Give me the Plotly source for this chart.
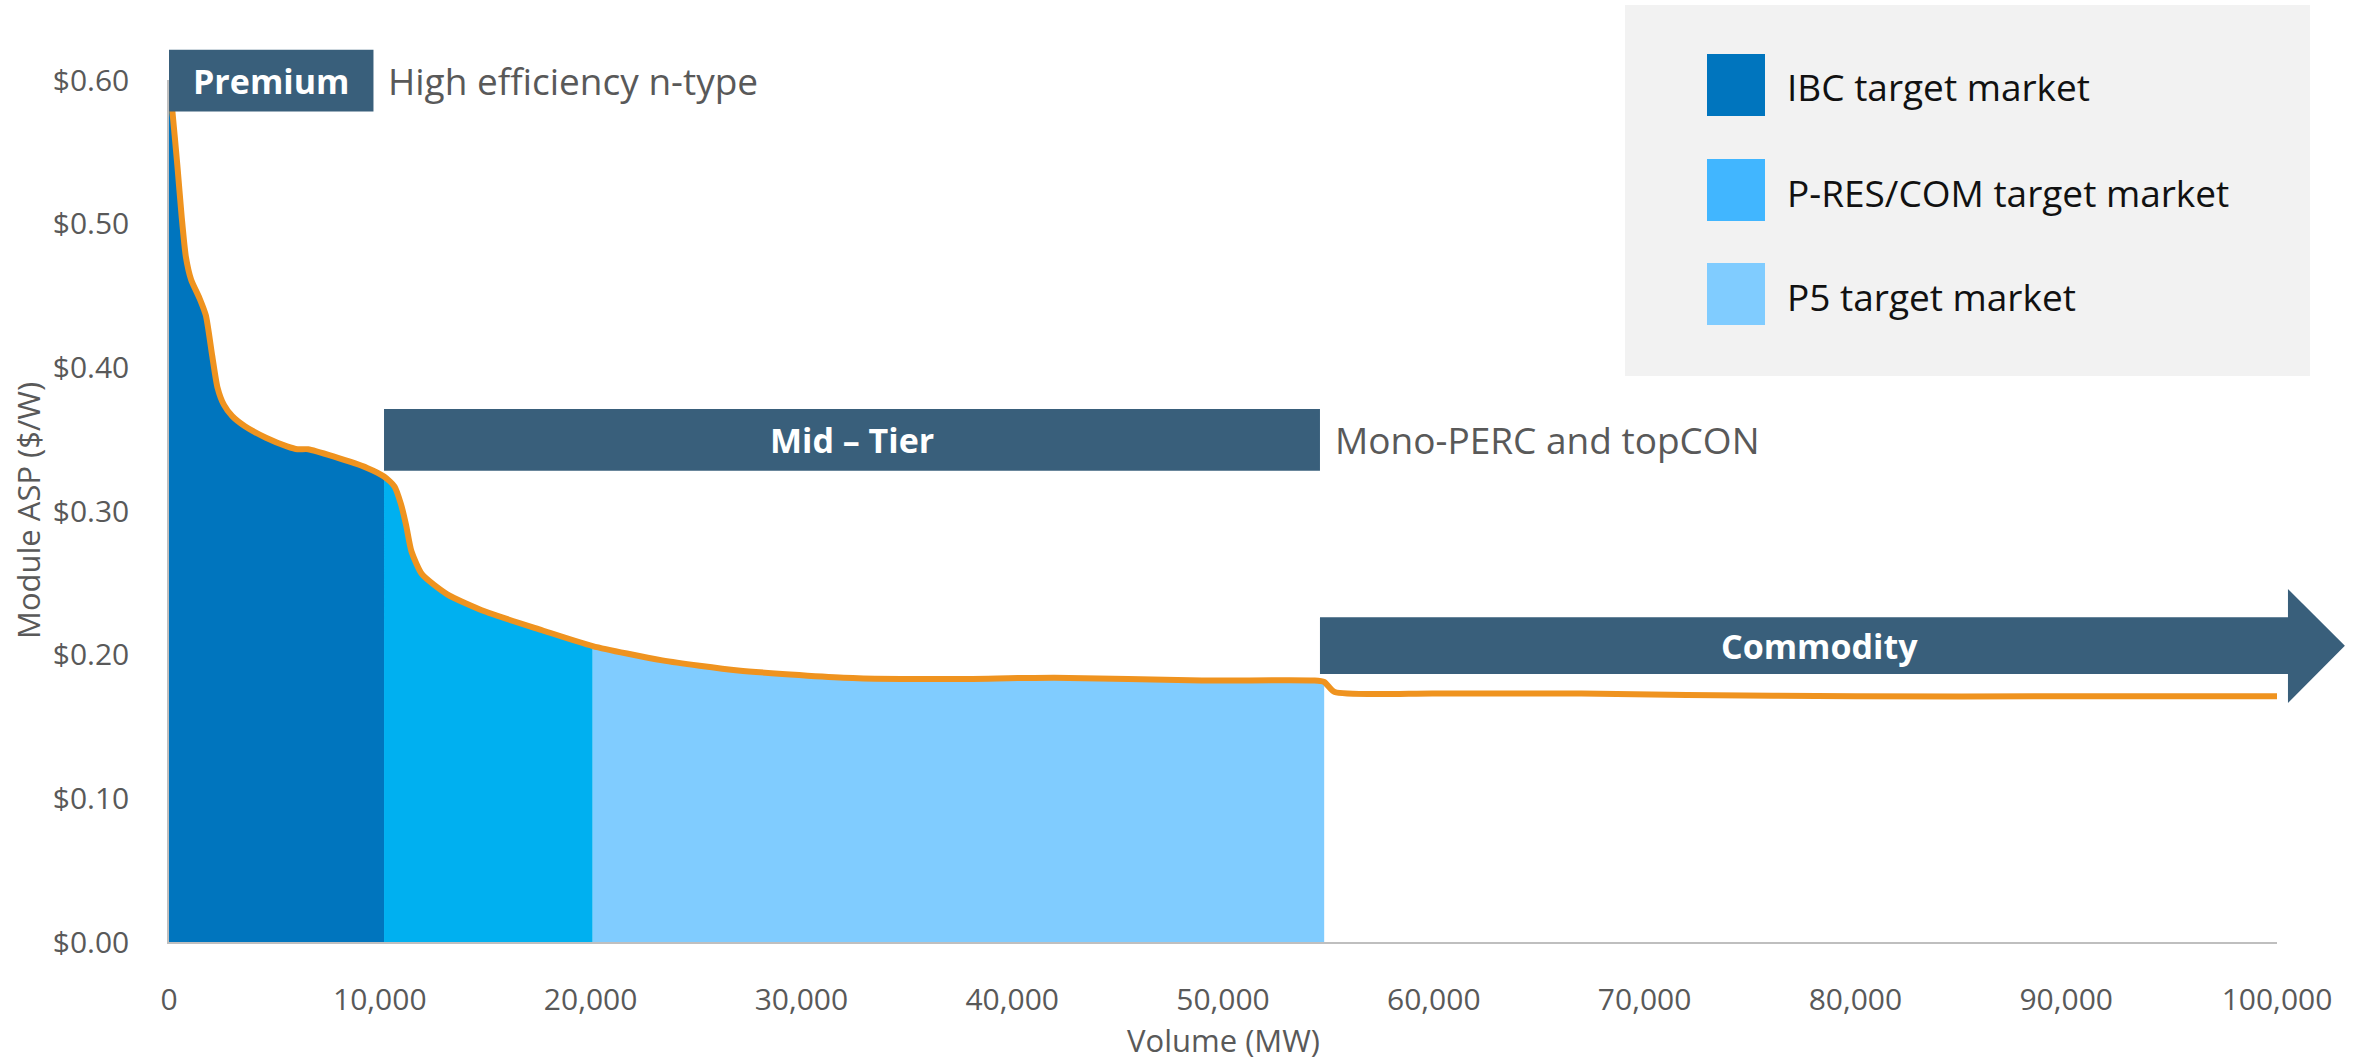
import plotly.graph_objects as go

# Module price curve: volume (MW) vs average selling price ($/W)
volume_mw = [0, 150, 400, 600, 800, 1050, 1450, 1750, 2050, 2300, 2600, 3000, 3600,
             4600, 5600, 6100, 6600, 7800, 9400, 10200, 10700, 11000, 11250, 11500,
             12000, 13200, 15000, 17700, 20100, 23400, 27000, 32000, 37000, 42000,
             49000, 54300, 54800, 55300, 60000, 67000, 72000, 80000, 90000, 100000]
asp_usd_w = [0.600, 0.580, 0.540, 0.505, 0.477, 0.461, 0.448, 0.436, 0.408, 0.386,
             0.374, 0.366, 0.359, 0.351, 0.345, 0.343, 0.343, 0.338, 0.330, 0.324,
             0.317, 0.305, 0.290, 0.272, 0.256, 0.242, 0.230, 0.217, 0.206, 0.196,
             0.189, 0.184, 0.183, 0.184, 0.182, 0.182, 0.181, 0.174, 0.173, 0.173,
             0.172, 0.171, 0.171, 0.171]

# Target market segments (volume bounds, MW)
segment_names = ["IBC target market", "P-RES/COM target market", "P5 target market"]
segment_bounds = [(0, 10200), (10200, 20100), (20100, 54800)]
segment_fill = ["#0075BE", "#00B0F0", "#80CCFF"]
legend_swatch = ["#0075BE", "#41B6FF", "#80CCFF"]

# Price tiers: label, description, volume span, price span
tier_labels = ["Premium", "Mid \u2013 Tier", "Commodity"]
tier_notes = ["High efficiency n-type", "Mono-PERC and topCON", ""]
tier_x = [(0, 9700), (10200, 54600), (54600, 100520)]
tier_y = [(0.578, 0.621), (0.328, 0.371), (0.1865, 0.226)]
arrow_tip_x = 103220
arrow_head_y = (0.1664, 0.2457)

y_ticks = [0.0, 0.1, 0.2, 0.3, 0.4, 0.5, 0.6]
y_tick_text = ["$0.00", "$0.10", "$0.20", "$0.30", "$0.40", "$0.50", "$0.60"]
x_ticks = list(range(0, 100001, 10000))

X_RANGE = (0, 100000)
Y_RANGE = (0, 0.6)

FIG_W, FIG_H = 2361, 1061
M_L, M_R, M_T, M_B = 169, 84, 80, 119
PLOT_W = FIG_W - M_L - M_R
PLOT_H = FIG_H - M_T - M_B

BANNER = "#395F7B"
ORANGE = "#EF931F"
GREY_TEXT = "#595959"
FONT = "Open Sans"


def fx(x):
    """Data x -> paper fraction."""
    return (x - X_RANGE[0]) / (X_RANGE[1] - X_RANGE[0])


def fy(y):
    """Data y -> paper fraction."""
    return (y - Y_RANGE[0]) / (Y_RANGE[1] - Y_RANGE[0])


def px(p):
    """Pixel column -> paper fraction."""
    return (p - M_L) / PLOT_W


def py(p):
    """Pixel row -> paper fraction."""
    return (FIG_H - M_B - p) / PLOT_H


fig = go.Figure()

# Shaded target-market areas under the curve
for name, (lo, hi), col in zip(segment_names, segment_bounds, segment_fill):
    xs = [v for v in volume_mw if lo <= v <= hi]
    ys = [a for v, a in zip(volume_mw, asp_usd_w) if lo <= v <= hi]
    fig.add_trace(go.Scatter(
        x=xs, y=ys, mode="lines", name=name, fill="tozeroy",
        fillcolor=col, line=dict(width=0, color=col, shape="spline", smoothing=0.6),
        showlegend=False, hoverinfo="skip",
    ))

# Price curve
fig.add_trace(go.Scatter(
    x=volume_mw, y=asp_usd_w, mode="lines", name="Module ASP",
    line=dict(color=ORANGE, width=6, shape="spline", smoothing=0.6),
    showlegend=False, cliponaxis=False,
))

shapes = []
annotations = []

# Tier banners
for i, (lab, note) in enumerate(zip(tier_labels, tier_notes)):
    x0, x1 = tier_x[i]
    y0, y1 = tier_y[i]
    if i < 2:
        shapes.append(dict(type="rect", xref="paper", yref="paper",
                           x0=fx(x0), x1=fx(x1), y0=fy(y0), y1=fy(y1),
                           fillcolor=BANNER, line=dict(width=0), layer="above"))
        cx = (x0 + x1) / 2
    else:
        path = (f"M {fx(x0)} {fy(y0)} L {fx(x1)} {fy(y0)} L {fx(x1)} {fy(arrow_head_y[0])} "
                f"L {fx(arrow_tip_x)} {fy((y0 + y1) / 2)} L {fx(x1)} {fy(arrow_head_y[1])} "
                f"L {fx(x1)} {fy(y1)} L {fx(x0)} {fy(y1)} Z")
        shapes.append(dict(type="path", xref="paper", yref="paper", path=path,
                           fillcolor=BANNER, line=dict(width=0), layer="above"))
        cx = (x0 + arrow_tip_x) / 2 - 600
    annotations.append(dict(
        x=fx(cx), y=fy((y0 + y1) / 2), xref="paper", yref="paper",
        text=f"<b>{lab}</b>", showarrow=False, xanchor="center", yanchor="middle",
        font=dict(family=FONT, size=34, color="white"),
    ))
    if note:
        annotations.append(dict(
            x=fx(x1 + 600), y=fy((y0 + y1) / 2), xref="paper", yref="paper",
            text=note, showarrow=False, xanchor="left", yanchor="middle",
            font=dict(family=FONT, size=37, color=GREY_TEXT),
        ))

# Legend panel
shapes.append(dict(type="rect", xref="paper", yref="paper",
                   x0=px(1625), x1=px(2310), y0=py(376), y1=py(5),
                   fillcolor="#F2F2F2", line=dict(width=0), layer="above"))
legend_rows = [85, 190, 294]
for name, col, rc in zip(segment_names, legend_swatch, legend_rows):
    shapes.append(dict(type="rect", xref="paper", yref="paper",
                       x0=px(1707), x1=px(1765), y0=py(rc + 31), y1=py(rc - 31),
                       fillcolor=col, line=dict(width=0), layer="above"))
    annotations.append(dict(
        x=px(1785), y=py(rc + 2), xref="paper", yref="paper", text=name,
        showarrow=False, xanchor="left", yanchor="middle",
        font=dict(family=FONT, size=37, color="#111111"),
    ))

# Axis titles
annotations.append(dict(
    x=px(28), y=0.5, xref="paper", yref="paper", text="Module ASP ($/W)",
    textangle=-90, showarrow=False, xanchor="center", yanchor="middle",
    font=dict(family=FONT, size=31, color=GREY_TEXT),
))
annotations.append(dict(
    x=0.5, y=py(1040), xref="paper", yref="paper", text="Volume (MW)",
    showarrow=False, xanchor="center", yanchor="middle",
    font=dict(family=FONT, size=31, color=GREY_TEXT),
))

fig.update_layout(
    width=FIG_W, height=FIG_H,
    margin=dict(l=M_L, r=M_R, t=M_T, b=M_B, pad=0, autoexpand=False),
    paper_bgcolor="white", plot_bgcolor="white",
    font=dict(family=FONT, color=GREY_TEXT),
    shapes=shapes, annotations=annotations,
    showlegend=False,
)
fig.update_xaxes(
    range=list(X_RANGE), tickvals=x_ticks, tickformat=",d", automargin=False,
    showgrid=False, zeroline=False, showline=True, linecolor="#BFBFBF", linewidth=2,
    ticks="", ticklabelstandoff=30,
    tickfont=dict(family=FONT, size=30, color=GREY_TEXT),
)
fig.update_yaxes(
    range=list(Y_RANGE), tickvals=y_ticks, ticktext=y_tick_text, automargin=False,
    showgrid=False, zeroline=False, showline=True, linecolor="#BFBFBF", linewidth=1.5,
    ticks="", ticklabelstandoff=32,
    tickfont=dict(family=FONT, size=30, color=GREY_TEXT),
)

fig.write_html("out.html")
